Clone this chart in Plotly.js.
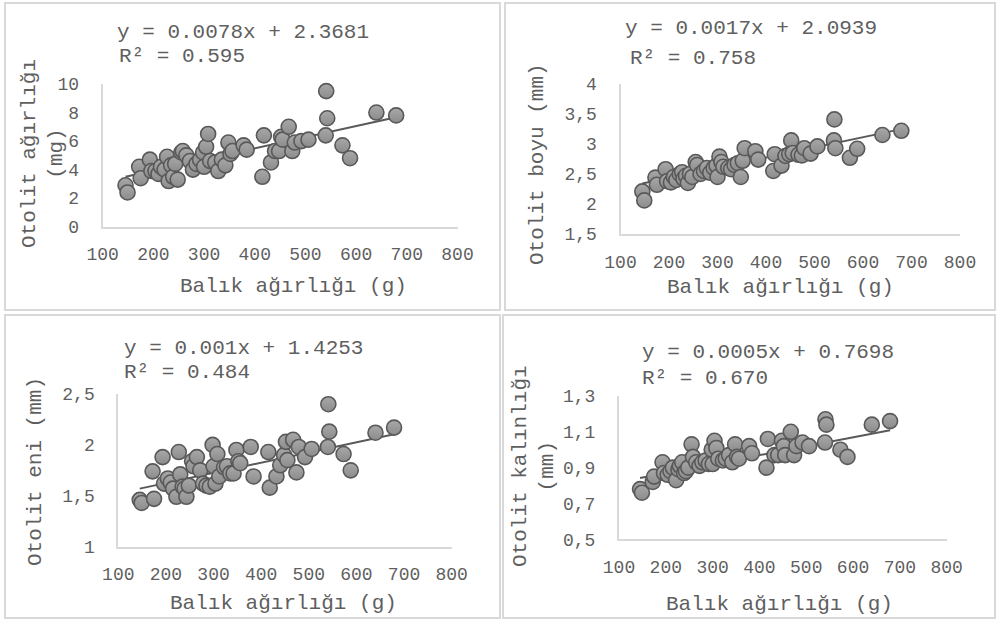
<!DOCTYPE html>
<html>
<head>
<meta charset="utf-8">
<script src="https://cdn.plot.ly/plotly-3.0.1.min.js"></script>
<style>html,body{margin:0;padding:0;background:#fff}#chart{width:996px;height:619px}</style>
</head>
<body>
<div id="chart"></div>
<script>
// Fish weight (g) – shared by all four panels
const balikAgirligi = [145,149,172,175,193,196,204,210,215,222,227,230,235,239,243,248,255,258,265,272,278,285,292,298,300,304,308,312,322,328,335,342,348,352,356,378,384,415,418,432,440,448,452,455,467,474,479,492,506,540,541,543,573,588,640,679];
// Otolith weight (mg)
const otolitAgirligi = [2.9,2.4,4.2,3.4,4.7,3.9,3.9,3.7,4.2,4.0,4.9,3.2,4.3,3.5,4.4,3.3,5.2,5.3,5.0,4.6,4.0,4.4,4.7,5.2,4.2,5.6,6.5,4.6,4.5,3.9,4.7,4.3,5.9,5.1,5.3,5.7,5.4,3.5,6.4,4.5,5.3,5.3,6.3,6.1,7.0,5.3,5.9,6.0,6.1,6.4,9.5,7.6,5.7,4.8,8.0,7.8];
// Otolith length (mm)
const otolitBoyu = [2.21,2.06,2.44,2.32,2.58,2.38,2.36,2.45,2.40,2.50,2.53,2.42,2.47,2.35,2.50,2.45,2.70,2.65,2.50,2.55,2.60,2.52,2.60,2.64,2.45,2.79,2.70,2.62,2.60,2.58,2.65,2.68,2.45,2.72,2.93,2.88,2.74,2.55,2.83,2.64,2.80,2.83,3.06,2.85,2.82,2.81,2.93,2.84,2.96,3.06,3.41,2.93,2.77,2.92,3.15,3.22];
// Otolith width (mm)
const otolitEni = [1.46,1.43,1.74,1.47,1.88,1.62,1.67,1.63,1.57,1.49,1.93,1.71,1.59,1.57,1.49,1.60,1.84,1.79,1.88,1.75,1.62,1.60,1.59,2.00,1.79,1.62,1.91,1.69,1.78,1.79,1.72,1.72,1.95,1.84,1.82,1.98,1.69,1.93,1.58,1.69,1.80,1.90,2.03,1.85,2.05,1.73,1.98,1.88,1.96,1.98,2.40,2.13,1.91,1.75,2.12,2.17];
// Otolith thickness (mm)
const otolitKalinligi = [0.78,0.76,0.82,0.85,0.93,0.87,0.86,0.88,0.90,0.83,0.89,0.91,0.93,0.87,0.88,0.90,1.03,0.96,0.93,0.91,0.93,0.94,0.92,1.00,0.92,1.05,1.01,0.95,0.94,0.95,0.97,0.93,1.03,0.96,0.95,1.02,0.98,0.90,1.06,0.97,0.97,1.05,1.02,0.97,1.10,0.97,1.02,1.04,1.02,1.04,1.17,1.14,1.00,0.96,1.14,1.16];

const slopes = [0.0078, 0.0017, 0.001, 0.0005];
const intercepts = [2.3681, 2.0939, 1.4253, 0.7698];
const equationLabels = ["y = 0.0078x + 2.3681","y = 0.0017x + 2.0939","y = 0.001x + 1.4253","y = 0.0005x + 0.7698"];
const r2Labels = ["R² = 0.595","R² = 0.758","R² = 0.484","R² = 0.670"];
const yTitles = ["Otolit ağırlığı<br>(mg)","Otolit boyu (mm)","Otolit eni (mm)","Otolit kalınlığı<br>(mm)"];
const xTitle = "Balık ağırlığı (g)";
const yRanges = [[0,10],[1.5,4],[1,2.5],[0.5,1.3]];
const yDticks = [2,0.5,0.5,0.2];

const ySeries = [otolitAgirligi, otolitBoyu, otolitEni, otolitKalinligi];

// layout geometry (pixels)
const W = 996, H = 619;
const boxes = [
  {x0:102.7, x1:457.5, yTop:84, yBot:226.7},
  {x0:620.5, x1:960, yTop:84, yBot:234},
  {x0:118.3, x1:451.7, yTop:394, yBot:546.7},
  {x0:619, x1:946.7, yTop:396, yBot:539.3}
];
const font = "Liberation Mono, Courier New, monospace";
const txt = "#5f5f5f";

const data = [];
const layout = {
  width: W, height: H,
  margin: {l:0,r:0,t:0,b:0},
  paper_bgcolor: "#fff", plot_bgcolor: "#fff",
  showlegend: false,
  separators: ",.",
  font: {family: font, color: txt, size: 18},
  annotations: [], shapes: []
};

const xmin = Math.min(...balikAgirligi), xmax = Math.max(...balikAgirligi);

for (let i = 0; i < 4; i++) {
  const s = i === 0 ? "" : String(i+1);
  const b = boxes[i];
  data.push({
    type: "scatter", mode: "lines",
    x: [xmin, xmax],
    y: [slopes[i]*xmin + intercepts[i], slopes[i]*xmax + intercepts[i]],
    xaxis: "x"+s, yaxis: "y"+s,
    line: {color: "#595959", width: 2},
    hoverinfo: "skip"
  });
  data.push({
    type: "scatter", mode: "markers",
    x: balikAgirligi, y: ySeries[i],
    xaxis: "x"+s, yaxis: "y"+s,
    cliponaxis: false,
    marker: {size: 15, color: "#a8a8a8", line: {color: "#595959", width: 1.6},
             gradient: {type: "vertical", color: "#8c8c8c"}}
  });
  layout["xaxis"+s] = {
    domain: [b.x0/W, b.x1/W], anchor: "y"+s,
    range: [100, 800], dtick: 100, tick0: 100,
    showgrid: false, zeroline: false,
    showline: true, linecolor: "#d9d9d9", linewidth: 2,
    ticks: "", ticklabelstandoff: 10,
    tickfont: {family: font, size: 18, color: txt}
  };
  layout["yaxis"+s] = {
    domain: [1 - b.yBot/H, 1 - b.yTop/H], anchor: "x"+s,
    range: yRanges[i], dtick: yDticks[i], tick0: yRanges[i][0],
    showgrid: false, zeroline: false,
    showline: true, linecolor: "#d9d9d9", linewidth: 2,
    ticks: "", ticklabelstandoff: 18,
    tickfont: {family: font, size: 18, color: txt}
  };
}

// equation + R² labels
const eqPos = [[115,32,117,57],[623,29,628,58],[122,348,122,373],[640,352,640,378]];
for (let i = 0; i < 4; i++) {
  const p = eqPos[i];
  layout.annotations.push({xref:"paper",yref:"paper",x:p[0]/W,y:1-p[1]/H,xanchor:"left",yanchor:"middle",
    text:equationLabels[i],showarrow:false,font:{family:font,size:21,color:txt}});
  layout.annotations.push({xref:"paper",yref:"paper",x:p[2]/W,y:1-p[3]/H,xanchor:"left",yanchor:"middle",
    text:r2Labels[i],showarrow:false,font:{family:font,size:21,color:txt}});
}
// x titles
const xtPos = [[293,286],[780,287],[283,603],[779,604]];
for (let i = 0; i < 4; i++) {
  layout.annotations.push({xref:"paper",yref:"paper",x:xtPos[i][0]/W,y:1-xtPos[i][1]/H,xanchor:"center",yanchor:"middle",
    text:xTitle,showarrow:false,font:{family:font,size:21,color:txt}});
}
// y titles
const ytPos = [[43,154],[537,164],[35,472],[534,466]];
for (let i = 0; i < 4; i++) {
  layout.annotations.push({xref:"paper",yref:"paper",x:ytPos[i][0]/W,y:1-ytPos[i][1]/H,xanchor:"center",yanchor:"middle",
    textangle:-90,text:yTitles[i],showarrow:false,font:{family:font,size:21,color:txt}});
}
// panel borders
const borders = [[5,3,500,310],[505,3,995,310],[5,315,500,618],[503,315,995,618]];
borders.forEach(r => layout.shapes.push({type:"rect",xref:"paper",yref:"paper",
  x0:r[0]/W,x1:r[2]/W,y0:1-r[3]/H,y1:1-r[1]/H,line:{color:"#d9d9d9",width:2}}));

Plotly.newPlot("chart", data, layout, {staticPlot:true});
</script>
</body>
</html>
